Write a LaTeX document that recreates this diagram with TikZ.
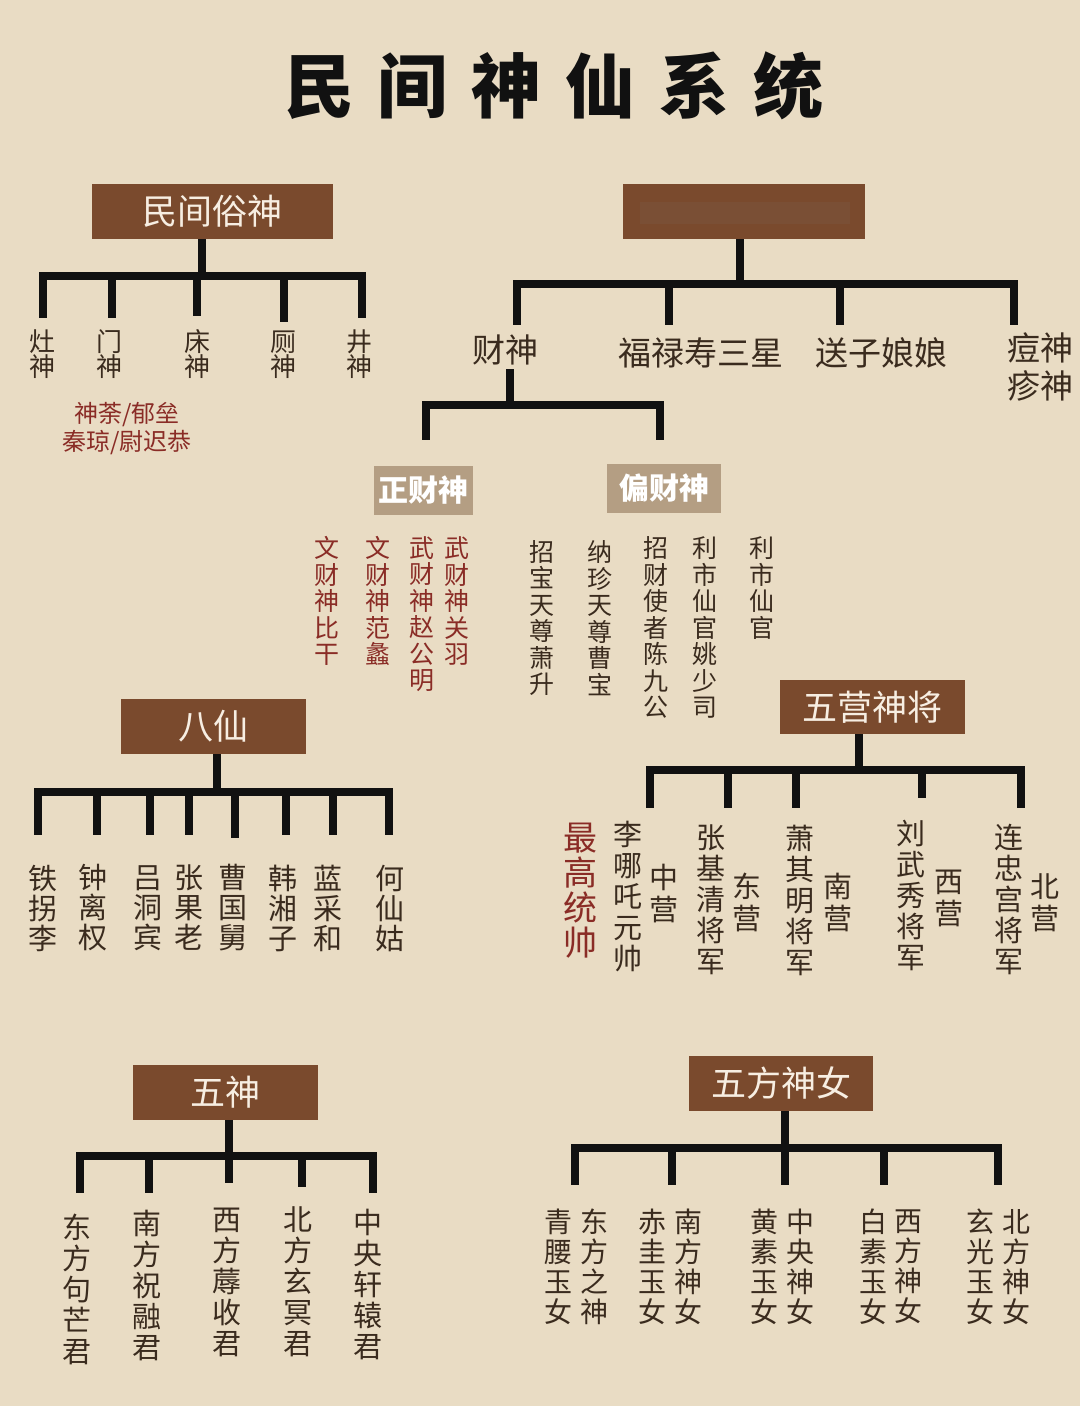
\documentclass[tikz,border=0pt]{standalone}
\usepackage{fontspec}
\setmainfont{Noto Sans CJK SC}
\definecolor{bg}{HTML}{E9DCC4}
\definecolor{boxc}{HTML}{7A4A2D}
\definecolor{tanc}{HTML}{B49E83}
\definecolor{ink}{HTML}{3A2B1E}
\definecolor{redink}{HTML}{8A2C26}
\definecolor{boxtext}{HTML}{F7EEE2}
\definecolor{linec}{HTML}{111111}
\begin{document}
\begin{tikzpicture}[x=1pt,y=-1pt,
  every node/.style={inner sep=0pt},
  tree/.style={draw=linec,line width=7.5pt,line cap=rect},
  leg/.style={draw=linec,line width=7.5pt},
  bigbox/.style={fill=boxc,text=boxtext,font=\fontsize{35}{40}\selectfont},
  subbox/.style={fill=tanc,text=white,font=\bfseries\fontsize{30}{34}\selectfont},
  vt/.style args={#1/#2}{align=center,text=ink,font=\fontsize{#1}{#2}\selectfont},
  red/.style={text=redink},
  lvl/.style={text=ink,font=\fontsize{33}{38}\selectfont,align=center}]
\fill[bg] (0,0) rectangle (1080,1406);

% title
\node[font=\bfseries\fontsize{70}{80}\selectfont,text=linec] (title) at (554,86)
  {民\hspace{24pt}间\hspace{24pt}神\hspace{24pt}仙\hspace{24pt}系\hspace{24pt}统};

% boxes
\node[bigbox,minimum width=241pt,minimum height=55pt] (ms) at (212.5,211.5) {民间俗神};
\node[bigbox,minimum width=242pt,minimum height=55pt] (hid) at (744,211.5) {};
\fill[boxc!80!gray,opacity=0.5] (640,202) rectangle (850,224);
\node[subbox,minimum width=99pt,minimum height=49pt] (zc) at (423.5,490.5) {正财神};
\node[subbox,minimum width=114pt,minimum height=49pt] (pc) at (664,488.5) {偏财神};
\node[bigbox,minimum width=185pt,minimum height=55pt] (bx) at (213.5,726.5) {八仙};
\node[bigbox,minimum width=185pt,minimum height=54pt] (wy) at (872.5,707) {五营神将};
\node[bigbox,minimum width=185pt,minimum height=55pt] (ws) at (225.5,1092.5) {五神};
\node[bigbox,minimum width=184pt,minimum height=55pt] (wf) at (781,1083.5) {五方神女};

% ---- tree A: 民间俗神
\coordinate (a0) at (202,276);
\draw[leg] (a0 |- ms.south) -- (a0);
\coordinate (aL) at (43,276); \coordinate (aR) at (362,276);
\draw[tree] (aL) -- (aR);
\foreach \x/\y in {43/318,112/318,197/316,284/322,362/318}
  \draw[leg] (\x,276) -- (\x,\y);
\node[vt=26/25] (la1) at (42,354.5) {灶\\神};
\node[vt=26/25] (la2) at (109,354.5) {门\\神};
\node[vt=26/25] (la3) at (197,354.5) {床\\神};
\node[vt=26/25] (la4) at (283,354.5) {厕\\神};
\node[vt=26/25] (la5) at (359,354.5) {井\\神};
\node[vt=24/28,red] (mnote) at (127,429) {神荼/郁垒\\秦琼/尉迟恭};

% ---- tree B: top right
\coordinate (b0) at (740,284);
\draw[leg] (b0 |- hid.south) -- (b0);
\coordinate (bL) at (517,284); \coordinate (bR) at (1014,284);
\draw[tree] (bL) -- (bR);
\foreach \x in {517,669,840,1014}
  \draw[leg] (\x,284) -- (\x,325);
\node[lvl,outer sep=4pt] (cs) at (505,350) {财神};
\node[lvl] (fl) at (701,353) {福禄寿三星};
\node[lvl] (sz) at (881,353) {送子娘娘};
\node[lvl] (dz) at (1040,367) {痘神\\疹神};

% ---- tree C: 财神
\coordinate (c0) at (510,405);
\draw[leg] (c0 |- cs.south) -- (c0);
\coordinate (cL) at (426,405); \coordinate (cR) at (660,405);
\draw[tree] (cL) -- (cR);
\draw[leg] (cL) -- (426,440);
\draw[leg] (cR) -- (660,440);
\node[vt=25/26.5,red] (z1) at (327,601) {文\\财\\神\\比\\干};
\node[vt=25/26.5,red] (z2) at (378,601) {文\\财\\神\\范\\蠡};
\node[vt=25/26.5,red] (z3) at (422,614) {武\\财\\神\\赵\\公\\明};
\node[vt=25/26.5,red] (z4) at (457,601) {武\\财\\神\\关\\羽};
\node[vt=25/26.5] (p1) at (542,618) {招\\宝\\天\\尊\\萧\\升};
\node[vt=25/26.5] (p2) at (600,618) {纳\\珍\\天\\尊\\曹\\宝};
\node[vt=25/26.5] (p3) at (656,627.5) {招\\财\\使\\者\\陈\\九\\公};
\node[vt=25/26.5] (p4) at (705,627.5) {利\\市\\仙\\官\\姚\\少\\司};
\node[vt=25/26.5] (p5) at (762,588) {利\\市\\仙\\官};

% ---- tree D: 八仙
\coordinate (d0) at (217,792);
\draw[leg] (d0 |- bx.south) -- (d0);
\coordinate (dL) at (38,792); \coordinate (dR) at (389,792);
\draw[tree] (dL) -- (dR);
\foreach \x/\y in {38/835,97/835,150/835,189/835,235/838,286/835,333/835,389/835}
  \draw[leg] (\x,792) -- (\x,\y);
\node[vt=29/30] (e1) at (43,908) {铁\\拐\\李};
\node[vt=29/30] (e2) at (93,908) {钟\\离\\权};
\node[vt=29/30] (e3) at (148,908) {吕\\洞\\宾};
\node[vt=29/30] (e4) at (189,908) {张\\果\\老};
\node[vt=29/30] (e5) at (233,908) {曹\\国\\舅};
\node[vt=29/30] (e6) at (283,908) {韩\\湘\\子};
\node[vt=29/30] (e7) at (328,908) {蓝\\采\\和};
\node[vt=29/30] (e8) at (390,908) {何\\仙\\姑};

% ---- tree E: 五营神将
\coordinate (w0) at (859,770);
\draw[leg] (w0 |- wy.south) -- (w0);
\coordinate (wL) at (650,770); \coordinate (wR) at (1021,770);
\draw[tree] (wL) -- (wR);
\foreach \x/\y in {650/808,728/808,796/808,922/798,1021/808}
  \draw[leg] (\x,770) -- (\x,\y);
\node[vt=34/35,red] (y0) at (580,890.5) {最\\高\\统\\帅};
\node[vt=29/31] (y1) at (628,897) {李\\哪\\吒\\元\\帅};
\node[vt=29/32] (y1b) at (664,894) {中\\营};
\node[vt=29/31] (y2) at (711,900) {张\\基\\清\\将\\军};
\node[vt=29/32] (y2b) at (747,902.5) {东\\营};
\node[vt=29/31] (y3) at (800,900) {萧\\其\\明\\将\\军};
\node[vt=29/32] (y3b) at (838,902.5) {南\\营};
\node[vt=29/31] (y4) at (911,895) {刘\\武\\秀\\将\\军};
\node[vt=29/32] (y4b) at (949,898) {西\\营};
\node[vt=29/31] (y5) at (1009,899) {连\\忠\\宫\\将\\军};
\node[vt=29/32] (y5b) at (1045,902.5) {北\\营};

% ---- tree F: 五神
\coordinate (f0) at (229,1156);
\draw[leg] (f0 |- ws.south) -- (f0);
\coordinate (fL) at (80,1156); \coordinate (fR) at (373,1156);
\draw[tree] (fL) -- (fR);
\foreach \x/\y in {80/1193,149/1193,229/1183,302/1187,373/1193}
  \draw[leg] (\x,1156) -- (\x,\y);
\node[vt=29/31] (s1) at (77,1289) {东\\方\\句\\芒\\君};
\node[vt=29/31] (s2) at (147,1285) {南\\方\\祝\\融\\君};
\node[vt=29/31] (s3) at (227,1282) {西\\方\\蓐\\收\\君};
\node[vt=29/31] (s4) at (298,1282) {北\\方\\玄\\冥\\君};
\node[vt=29/31] (s5) at (368,1284) {中\\央\\轩\\辕\\君};

% ---- tree G: 五方神女
\coordinate (g0) at (785,1148);
\draw[leg] (g0 |- wf.south) -- (g0);
\coordinate (gL) at (575,1148); \coordinate (gR) at (998,1148);
\draw[tree] (gL) -- (gR);
\foreach \x in {575,672,785,884,998}
  \draw[leg] (\x,1148) -- (\x,1185);
\node[vt=28/30] (n1a) at (558,1267) {青\\腰\\玉\\女};
\node[vt=28/30] (n1b) at (594,1267) {东\\方\\之\\神};
\node[vt=28/30] (n2a) at (652,1267) {赤\\圭\\玉\\女};
\node[vt=28/30] (n2b) at (688,1267) {南\\方\\神\\女};
\node[vt=28/30] (n3a) at (764,1267) {黄\\素\\玉\\女};
\node[vt=28/30] (n3b) at (800,1267) {中\\央\\神\\女};
\node[vt=28/30] (n4a) at (873,1267) {白\\素\\玉\\女};
\node[vt=28/30] (n4b) at (908,1267) {西\\方\\神\\女};
\node[vt=28/30] (n5a) at (980,1267) {玄\\光\\玉\\女};
\node[vt=28/30] (n5b) at (1016,1267) {北\\方\\神\\女};
\end{tikzpicture}
\end{document}
